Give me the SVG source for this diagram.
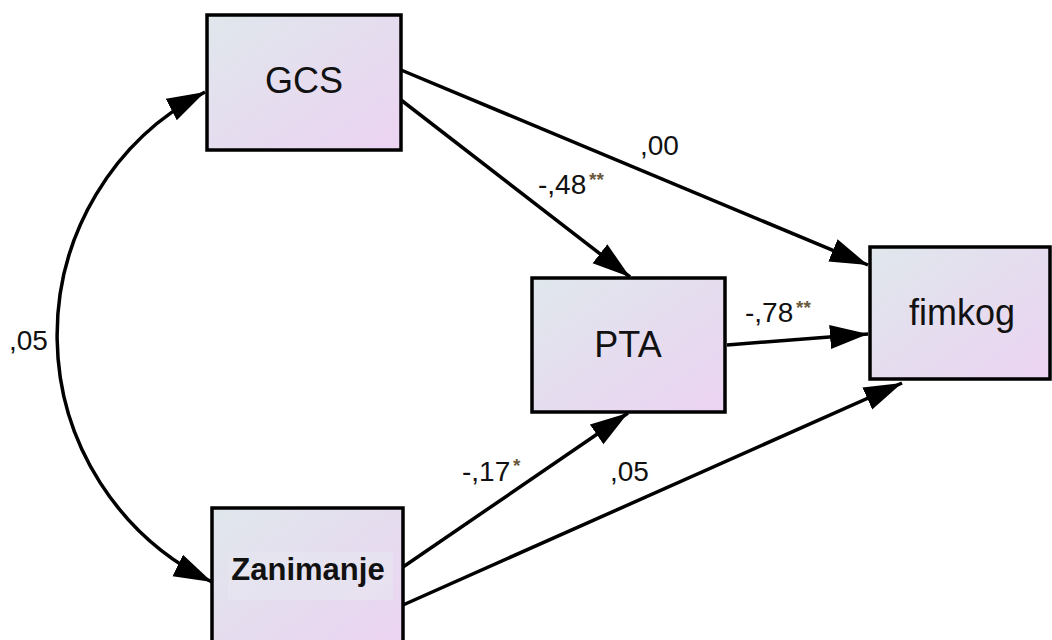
<svg xmlns="http://www.w3.org/2000/svg" width="1052" height="640" viewBox="0 0 1052 640">
<defs>
<linearGradient id="g" x1="0" y1="0" x2="1" y2="1">
<stop offset="0" stop-color="#dfe7ec"/>
<stop offset="1" stop-color="#ecd3f2"/>
</linearGradient>
<marker id="ah" markerUnits="userSpaceOnUse" markerWidth="40" markerHeight="26" refX="38" refY="12" orient="auto-start-reverse" viewBox="0 0 40 24">
<path d="M0,0 L38,12 L0,24 z" fill="#000"/>
</marker>
<style>
.box{fill:url(#g);stroke:#000;stroke-width:3.5}
.lbl{font-family:"Liberation Sans",Arial,sans-serif;font-size:36px;fill:#111;text-anchor:middle}
.bold{font-weight:bold;font-size:31px}
.e{font-family:"Liberation Sans",Arial,sans-serif;font-size:28px;fill:#111}
.s{font-family:"Liberation Sans",Arial,sans-serif;font-size:19px;fill:#6a5a40;font-weight:bold}
.c{fill:none;stroke:#000;stroke-width:3.5;marker-end:url(#ah)}
</style>
</defs>
<rect width="1052" height="640" fill="#fff"/>
<g id="connectors">
<path class="c" d="M212,582 A274,274 0 0 1 205,92" marker-start="url(#ah)"/>
<line class="c" x1="401" y1="70" x2="868" y2="265"/>
<line class="c" x1="401" y1="100" x2="630" y2="277"/>
<line class="c" x1="727" y1="345" x2="868" y2="334"/>
<line class="c" x1="403" y1="567" x2="628" y2="413"/>
<line class="c" x1="403" y1="605" x2="902" y2="383"/>
</g>
<g id="GCS">
<rect class="box" x="207" y="15" width="194" height="135"/>
<text class="lbl" x="304" y="93">GCS</text>
</g>
<g id="PTA">
<rect class="box" x="532" y="278" width="193" height="134"/>
<text class="lbl" x="628" y="357">PTA</text>
</g>
<g id="fimkog">
<rect class="box" x="870" y="247" width="180" height="132"/>
<text class="lbl" x="962" y="325">fimkog</text>
</g>
<g id="Zanimanje">
<rect class="box" x="212" y="508" width="191" height="140"/>
<rect x="228" y="552" width="165" height="48" fill="#e6e6f0" opacity="0.6"/>
<text class="lbl bold" x="308" y="580">Zanimanje</text>
</g>
<g id="labels">
<text class="e" x="640" y="155">,00</text>
<text class="e" x="538" y="194">-,48</text>
<text class="s" x="589" y="186">**</text>
<text class="e" x="745" y="322">-,78</text>
<text class="s" x="796" y="314">**</text>
<text class="e" x="462" y="481">-,17</text>
<text class="s" x="513" y="472">*</text>
<text class="e" x="610" y="481">,05</text>
<text class="e" x="9" y="350">,05</text>
</g>
</svg>
